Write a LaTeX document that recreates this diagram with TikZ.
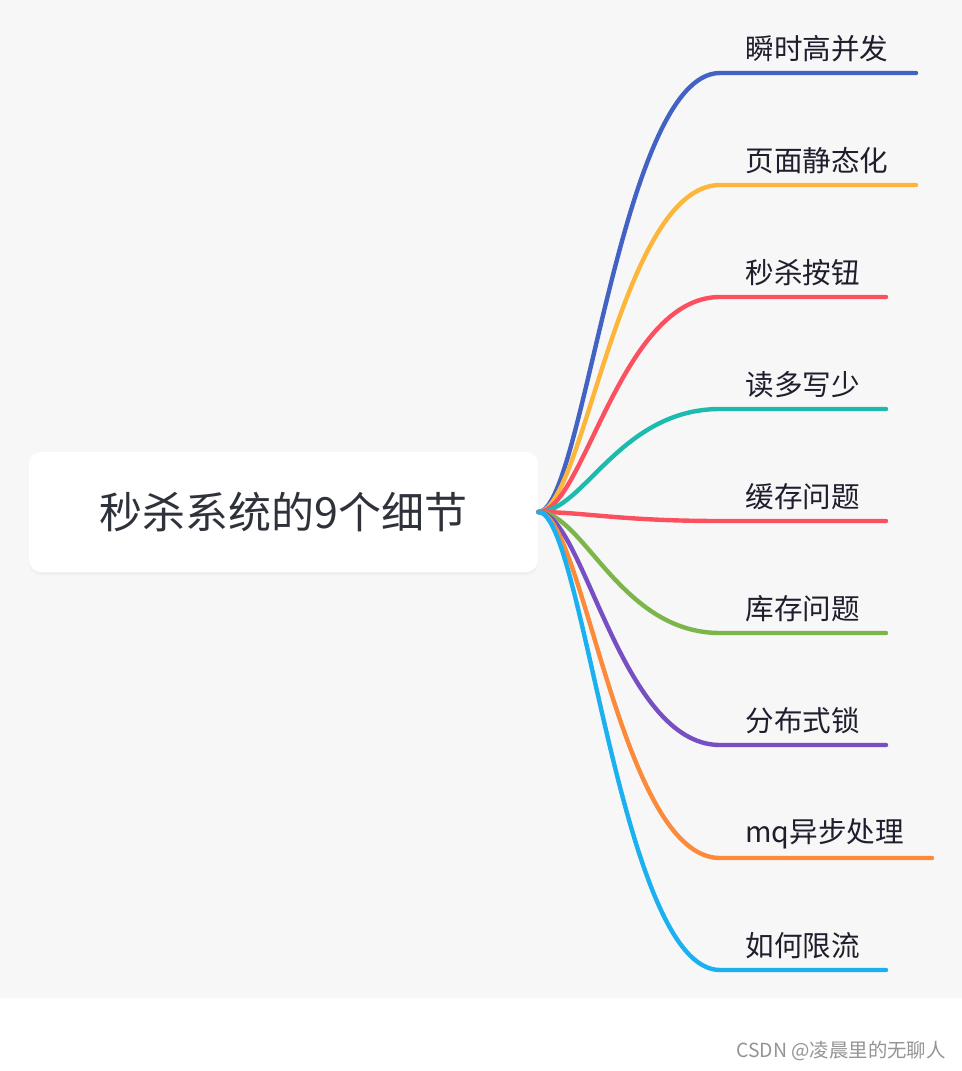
\documentclass[tikz,border=0pt]{standalone}
\usepackage{fontspec}
\setmainfont{Noto Sans CJK SC}
\usetikzlibrary{shadows}
\definecolor{mbg}{HTML}{F7F7F7}
\definecolor{mtext}{HTML}{1E1E2D}
\definecolor{mroot}{HTML}{2F323B}
\definecolor{cblue}{HTML}{4263C4}
\definecolor{cyellow}{HTML}{FDB53A}
\definecolor{cred}{HTML}{FA5060}
\definecolor{cteal}{HTML}{1DBBAE}
\definecolor{cgreen}{HTML}{7CB54A}
\definecolor{cpurple}{HTML}{774FC2}
\definecolor{corange}{HTML}{FB8B3A}
\definecolor{csky}{HTML}{1BB0EF}

\begin{document}
\begin{tikzpicture}[x=0.5pt, y=-0.5pt,
    root/.style={rectangle, rounded corners=6pt, fill=white, minimum width=254.5pt,
                 minimum height=60pt, inner sep=0pt, text=mroot,
                 font=\fontsize{21.5}{24}\selectfont,
                 drop shadow={opacity=0.06, shadow xshift=0pt, shadow yshift=-1.5pt}},
    leaf/.style={anchor=west, inner sep=0pt, text=mtext, font=\fontsize{14.3}{16}\selectfont},
    branch/.style={line width=2.2pt, line cap=round},
    mark_wm/.style={anchor=east, inner sep=0pt, text=black!42, font=\fontsize{9.7}{11}\selectfont}
]
\useasboundingbox[fill=white] (0,0) rectangle (962,1071);
\fill[mbg] (0,0) rectangle (962,998);

% Central topic
\node[root] (root) at (283.5,512) {秒杀系统的9个细节};

% Branches
\foreach \i/\ty/\tx/\col/\txt in {1/73/916/cblue/瞬时高并发, 2/185/916/cyellow/页面静态化,
    3/297/886/cred/秒杀按钮, 4/409/886/cteal/读多写少, 5/521/886/cred/缓存问题,
    6/633/886/cgreen/库存问题, 7/745/886/cpurple/分布式锁, 8/858/932/corange/mq异步处理,
    9/970/886/csky/如何限流} {
  \coordinate (s\i) at (720,\ty);
  \coordinate (e\i) at (\tx,\ty);
  \node[leaf] (t\i) at (745,\ty-24) {\txt};
  \draw[branch, \col] (root.east) .. controls +(45,0) and +(-100,0) .. (s\i) -- (e\i);
}

% Watermark
\node[mark_wm] (wm) at (946,1051) {CSDN @凌晨里的无聊人};

\end{tikzpicture}
\end{document}
